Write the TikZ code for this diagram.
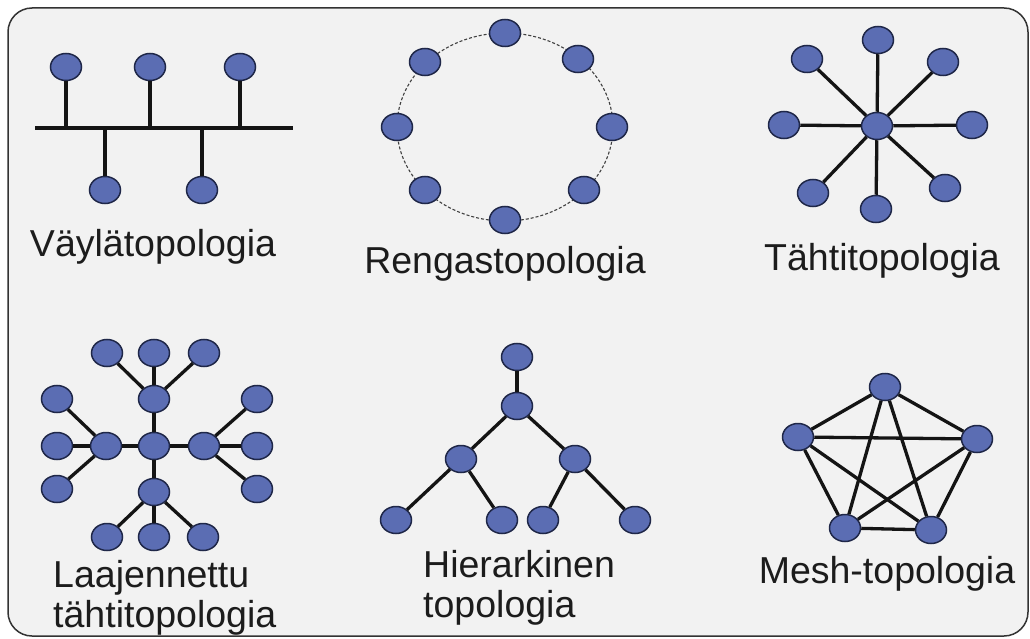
\documentclass[tikz,border=0pt]{standalone}
\usepackage{fontspec}
\setmainfont{Liberation Sans}
\usetikzlibrary{shapes.geometric}
\definecolor{nodefill}{HTML}{5B6DB3}
\definecolor{nodeline}{HTML}{1F2748}
\definecolor{panel}{HTML}{F2F2F2}
\definecolor{txt}{HTML}{1C1C1C}
\begin{document}
\begin{tikzpicture}[x=1pt,y=-1pt,
  dev/.style={ellipse,draw=nodeline,fill=nodefill,line width=1.5pt,minimum width=31pt,minimum height=27pt,inner sep=0pt},
  link/.style={line width=3.3pt,draw=black!92},
  ringline/.style={line width=1.1pt,draw=black!75,dash pattern=on 3pt off 2pt},
  lbl/.style={font=\fontsize{37.5}{40}\selectfont,text=txt,inner sep=0pt},
  frame/.style={draw=black!80,line width=1.5pt,fill=panel,rounded corners=24pt}]
\useasboundingbox (0,0) rectangle (1030,639);
\path[fill=white] (0,0) rectangle (1030,639);
\draw[frame] (8,8) rectangle (1028,636);

% ---------- Bus topology ----------
\coordinate (busL) at (35,128);
\coordinate (busR) at (293,128);
\node[dev] (b1) at (66,67) {};
\node[dev] (b2) at (150,67) {};
\node[dev] (b3) at (240,67) {};
\node[dev] (b4) at (105,190) {};
\node[dev] (b5) at (202,190) {};
\draw[link] (busL) -- (busR);
\foreach \n in {b1,b2,b3,b4,b5} \draw[link] (\n) -- (\n |- busL);
\node[lbl] (lbus) at (153,247) {Väylätopologia};

% ---------- Ring topology ----------
\coordinate (rc) at (505,127);
\draw[ringline] (rc) ellipse [x radius=108, y radius=94];
\node[dev] (r1) at (505,33) {};
\node[dev] (r2) at (578,59) {};
\node[dev] (r3) at (612,127) {};
\node[dev] (r4) at (584,190) {};
\node[dev] (r5) at (505,220) {};
\node[dev] (r6) at (425,190) {};
\node[dev] (r7) at (397,127) {};
\node[dev] (r8) at (425,62) {};
\node[lbl] (lring) at (505,264) {Rengastopologia};

% ---------- Star topology ----------
\node[dev] (s0) at (877,126) {};
\node[dev] (s1) at (878,40) {};
\node[dev] (s2) at (943,62) {};
\node[dev] (s3) at (972,125) {};
\node[dev] (s4) at (945,188) {};
\node[dev] (s5) at (876,209) {};
\node[dev] (s6) at (813,193) {};
\node[dev] (s7) at (784,125) {};
\node[dev] (s8) at (807,59) {};
\foreach \n in {s1,s2,s3,s4,s5,s6,s7,s8} \draw[link] (s0) -- (\n);
\node[lbl] (lstar) at (882,261) {Tähtitopologia};

% ---------- Extended star ----------
\node[dev] (e0) at (154,446) {};
\node[dev] (eT) at (154,399) {};
\node[dev] (eL) at (106,446) {};
\node[dev] (eR) at (204,446) {};
\node[dev] (eB) at (154,492) {};
\node[dev] (eT1) at (107,353) {};
\node[dev] (eT2) at (154,353) {};
\node[dev] (eT3) at (204,353) {};
\node[dev] (eL1) at (57,399) {};
\node[dev] (eL2) at (57,446) {};
\node[dev] (eL3) at (57,489) {};
\node[dev] (eR1) at (257,399) {};
\node[dev] (eR2) at (257,446) {};
\node[dev] (eR3) at (257,489) {};
\node[dev] (eB1) at (107,537) {};
\node[dev] (eB2) at (154,537) {};
\node[dev] (eB3) at (203,537) {};
\foreach \n in {eT,eL,eR,eB} \draw[link] (e0) -- (\n);
\foreach \n in {eT1,eT2,eT3} \draw[link] (eT) -- (\n);
\foreach \n in {eL1,eL2,eL3} \draw[link] (eL) -- (\n);
\foreach \n in {eR1,eR2,eR3} \draw[link] (eR) -- (\n);
\foreach \n in {eB1,eB2,eB3} \draw[link] (eB) -- (\n);
\node[lbl,anchor=west,align=left] (lext) at (53,598) {Laajennettu\\tähtitopologia};

% ---------- Hierarchical ----------
\node[dev] (h1) at (517,357) {};
\node[dev] (h2) at (517,406) {};
\node[dev] (h3) at (461,459) {};
\node[dev] (h4) at (575,459) {};
\node[dev] (h5) at (396,520) {};
\node[dev] (h6) at (502,520) {};
\node[dev] (h7) at (543,520) {};
\node[dev] (h8) at (635,520) {};
\draw[link] (h1) -- (h2);
\draw[link] (h2) -- (h3);
\draw[link] (h2) -- (h4);
\draw[link] (h3) -- (h5);
\draw[link] (h3) -- (h6);
\draw[link] (h4) -- (h7);
\draw[link] (h4) -- (h8);
\node[lbl,anchor=west,align=left] (lhier) at (423,588) {Hierarkinen\\topologia};

% ---------- Mesh ----------
\node[dev] (m1) at (885,387) {};
\node[dev] (m2) at (977,439) {};
\node[dev] (m3) at (931,530) {};
\node[dev] (m4) at (845,528) {};
\node[dev] (m5) at (798,437) {};
\foreach \a/\b in {m1/m2,m1/m3,m1/m4,m1/m5,m2/m3,m2/m4,m2/m5,m3/m4,m3/m5,m4/m5}
  \draw[link] (\a) -- (\b);
\node[lbl] (lmesh) at (887,574) {Mesh-topologia};
\end{tikzpicture}
\end{document}
